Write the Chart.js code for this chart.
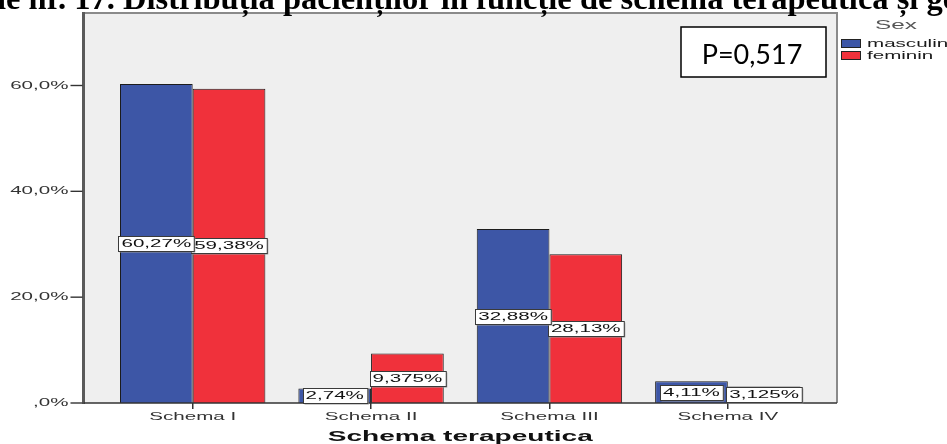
<!DOCTYPE html>
<html>
<head>
<meta charset="utf-8">
<script src="https://cdn.jsdelivr.net/npm/chart.js@4.4.0/dist/chart.umd.min.js"></script>
<style>
  html, body { margin: 0; padding: 0; background: #fff; overflow: hidden; }
  canvas { display: block; }
</style>
</head>
<body>
<canvas id="c" width="947" height="444"></canvas>
<script>
// ---- data ----
const categories = ['Schema I', 'Schema II', 'Schema III', 'Schema IV'];
const masculin = [60.27, 2.74, 32.88, 4.11];
const feminin = [59.38, 9.375, 28.13, 3.125];
const yTickLabels = [',0%', '20,0%', '40,0%', '60,0%'];
const seriesNames = ['masculin', 'feminin'];
const legendTitle = 'Sex';
const axisTitle = 'Schema terapeutica';
const captionText = 'ie nr. 17. Distribuția pacienților în funcție de schema terapeutică și ge';
const pValueText = 'P=0,517';

// ---- canvas: SPSS text is exported horizontally stretched ----
const canvas = document.getElementById('c');
const ctx = canvas.getContext('2d');
const SX = 1.87;
const plainFill = ctx.fillText.bind(ctx);
const plainMeasure = ctx.measureText.bind(ctx);
ctx.fillText = function (t, x, y, mw) {
  this.save();
  this.translate(x, y);
  this.scale(SX, 1);
  if (mw === undefined || mw === null) plainFill(t, 0, 0);
  else plainFill(t, 0, 0, mw / SX);
  this.restore();
};
ctx.measureText = function (t) {
  const m = plainMeasure(t);
  return {
    width: m.width * SX,
    actualBoundingBoxAscent: m.actualBoundingBoxAscent,
    actualBoundingBoxDescent: m.actualBoundingBoxDescent,
    actualBoundingBoxLeft: m.actualBoundingBoxLeft * SX,
    actualBoundingBoxRight: m.actualBoundingBoxRight * SX
  };
};

const SANS = '"Liberation Sans", Arial, sans-serif';
const GUTTER = 20;          // frame extends past the outer categories
const BLUE = '#3d56a6';
const RED = '#f0313b';

// plot frame background, drawn before the scales
const frameBack = {
  id: 'frameBack',
  beforeDraw(chart) {
    const a = chart.chartArea, c = chart.ctx;
    c.save();
    c.fillStyle = '#efefef';
    c.fillRect(a.left - GUTTER, a.top, a.right - a.left + 2 * GUTTER, a.bottom - a.top);
    c.restore();
  }
};

// frame edges, y tick marks, value boxes, legend, p-value box, caption
const overlay = {
  id: 'overlay',
  afterDatasetsDraw(chart) {
    const a = chart.chartArea, c = chart.ctx;
    const L = a.left - GUTTER, R = a.right + GUTTER;
    c.save();
    // top and right edge
    c.strokeStyle = '#8a8a8a';
    c.lineWidth = 2;
    c.beginPath();
    c.moveTo(L, a.top); c.lineTo(R, a.top); c.lineTo(R, a.bottom);
    c.stroke();
    // value axis
    c.strokeStyle = '#5a5a5a';
    c.lineWidth = 3;
    c.beginPath(); c.moveTo(L, a.top - 1); c.lineTo(L, a.bottom + 1); c.stroke();
    // category axis
    c.strokeStyle = '#333';
    c.lineWidth = 1.6;
    c.beginPath(); c.moveTo(L, a.bottom); c.lineTo(R, a.bottom); c.stroke();
    // y tick marks
    const ys = chart.scales.y;
    c.lineWidth = 1.4;
    ys.ticks.forEach(t => {
      const py = ys.getPixelForValue(t.value);
      c.beginPath(); c.moveTo(L - 13, py); c.lineTo(L - 1, py); c.stroke();
    });

    // value boxes at bar middles
    c.font = '11px ' + SANS;
    c.textAlign = 'center';
    c.textBaseline = 'middle';
    for (let d = chart.data.datasets.length - 1; d >= 0; d--) {
      const meta = chart.getDatasetMeta(d);
      const vals = chart.data.datasets[d].data;
      meta.data.forEach((bar, i) => {
        const txt = String(vals[i]).replace('.', ',') + '%';
        const w = c.measureText(txt).width + 6;
        const h = 15;
        const cx = bar.x, cy = (bar.y + bar.base) / 2;
        const bx = Math.round(cx - w / 2) + 0.5, by = Math.round(cy - h / 2) + 0.5;
        c.fillStyle = '#9a9a9a';
        c.fillRect(bx + 1, by + 1, w, h);
        c.fillStyle = '#ffffff';
        c.fillRect(bx, by, w, h);
        c.strokeStyle = '#3a3a3a';
        c.lineWidth = 1;
        c.strokeRect(bx, by, w, h);
        c.fillStyle = '#111';
        c.fillText(txt, cx, cy + 0.5);
      });
    }

    // legend
    c.fillStyle = '#555';
    c.font = '13px ' + SANS;
    c.textAlign = 'center';
    c.textBaseline = 'middle';
    c.fillText(legendTitle, 896, 25);
    c.font = '11px ' + SANS;
    c.textAlign = 'left';
    chart.data.datasets.forEach((ds, i) => {
      const sy = 39 + 12 * i;
      c.fillStyle = ds.backgroundColor;
      c.fillRect(841.5, sy + 0.5, 19, 8);
      c.strokeStyle = '#222';
      c.lineWidth = 1;
      c.strokeRect(841.5, sy + 0.5, 19, 8);
      c.fillStyle = '#1a1a1a';
      c.fillText(ds.label, 867, sy + 5);
    });

    // p-value box
    c.fillStyle = '#fff';
    c.fillRect(681, 27, 145, 50);
    c.strokeStyle = '#000';
    c.lineWidth = 1.5;
    c.strokeRect(681, 27, 145, 50);
    c.fillStyle = '#000';
    c.font = '27px Lato, "Open Sans", sans-serif';
    c.textAlign = 'center';
    c.textBaseline = 'alphabetic';
    plainFill(pValueText, 752, 64);

    // caption line above the chart (cut by the top edge)
    c.font = 'bold 32.5px "Liberation Serif", "Times New Roman", serif';
    c.textAlign = 'left';
    plainFill(captionText, -3, 9);
    c.restore();
  }
};

new Chart(canvas, {
  type: 'bar',
  data: {
    labels: categories,
    datasets: [
      { label: seriesNames[0], data: masculin, backgroundColor: BLUE, borderColor: '#1c1c1c', borderWidth: 1 },
      { label: seriesNames[1], data: feminin, backgroundColor: RED, borderColor: '#1c1c1c', borderWidth: 1 }
    ]
  },
  options: {
    responsive: false,
    devicePixelRatio: 1,
    animation: false,
    layout: { padding: { top: 13, right: 130, bottom: 0, left: 0 } },
    datasets: { bar: { barPercentage: 1, categoryPercentage: 0.815 } },
    plugins: { legend: { display: false }, tooltip: { enabled: false }, title: { display: false } },
    scales: {
      x: {
        grid: { display: true, drawOnChartArea: false, drawTicks: true, tickLength: 6, offset: false, color: '#333', lineWidth: 1.5 },
        border: { display: false },
        ticks: { font: { family: SANS, size: 11 }, color: '#333', padding: 1, maxRotation: 0, autoSkip: false },
        title: { display: true, text: axisTitle, font: { family: SANS, size: 15, weight: 'bold' }, color: '#111', padding: { top: 0, bottom: -2 } },
        afterFit(s) { s.height = 41; }
      },
      y: {
        min: 0,
        max: 73.7,
        grid: { display: false, drawTicks: true, tickLength: 34 },
        border: { display: false },
        ticks: {
          stepSize: 20,
          includeBounds: false,
          padding: 1,
          font: { family: SANS, size: 11 },
          color: '#333',
          callback: v => yTickLabels[Math.round(v / 20)]
        },
        afterFit(s) { s.width = 103.5; }
      }
    }
  },
  plugins: [frameBack, overlay]
});
</script>
</body>
</html>
